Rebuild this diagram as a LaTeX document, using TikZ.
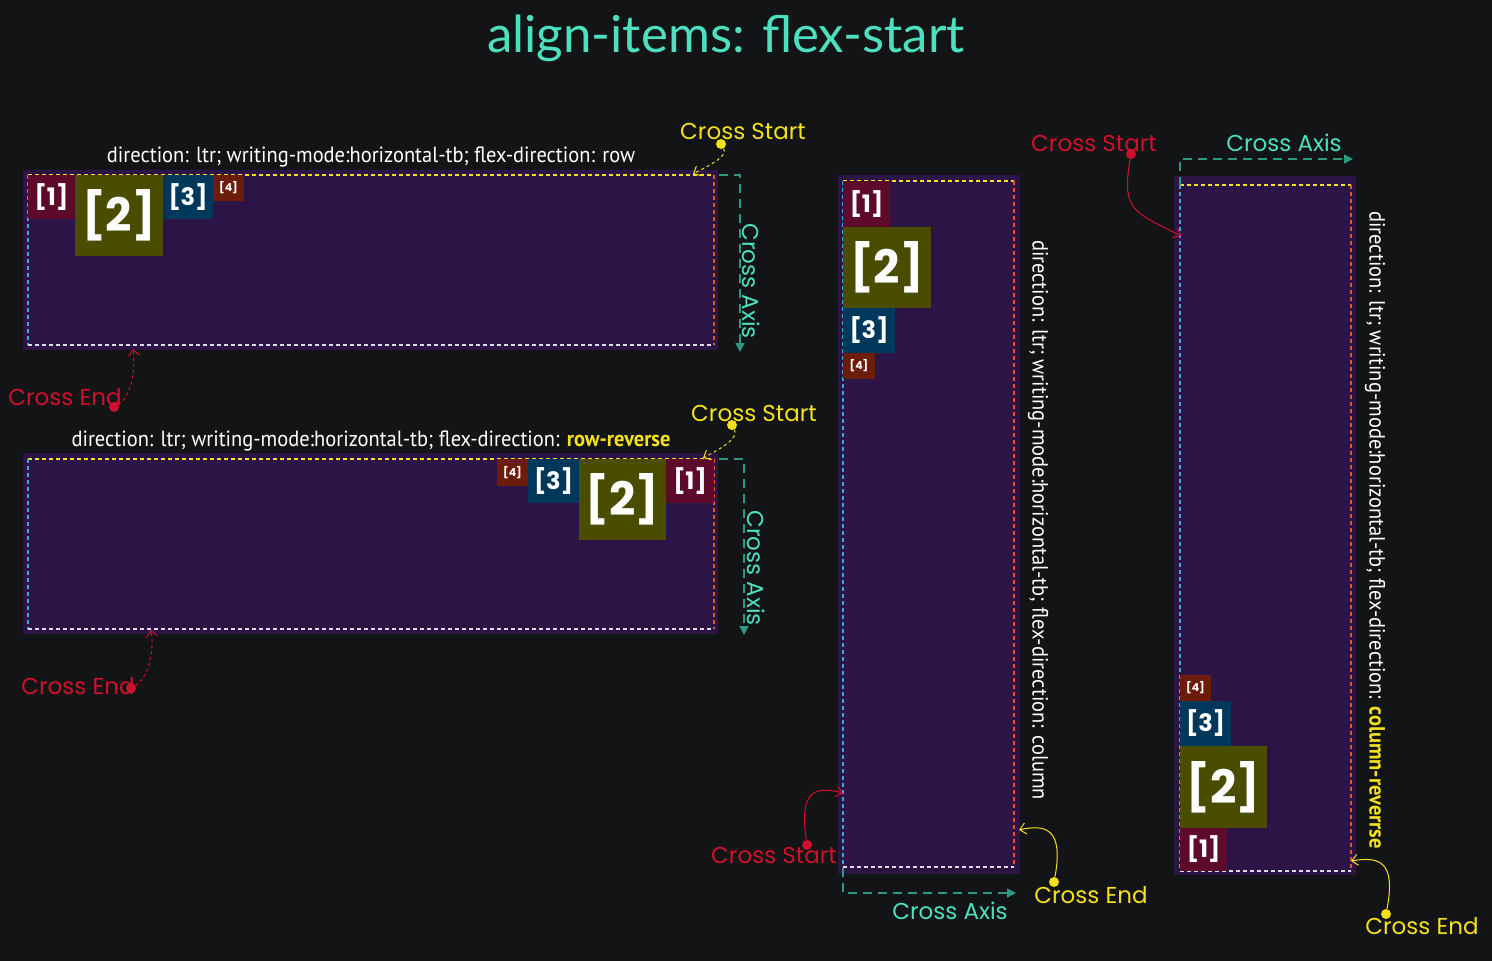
\documentclass[tikz,border=0pt]{standalone}
\usepackage{fontspec}
\usepackage{xcolor}
\usetikzlibrary{arrows.meta}
\setmainfont{Lato}
\newfontfamily\dirfont[FakeStretch=0.93]{PT Sans}
\newfontfamily\crossfont{Poppins}

\definecolor{bgc}{HTML}{131416}
\definecolor{boxc}{HTML}{2D1446}
\definecolor{onec}{HTML}{5E0A2B}
\definecolor{twoc}{HTML}{4A4D00}
\definecolor{threec}{HTML}{00385C}
\definecolor{fourc}{HTML}{6B1C0A}
\definecolor{tealc}{HTML}{4CE0BE}
\definecolor{axisc}{HTML}{2A9A80}
\definecolor{yelc}{HTML}{F5E11B}
\definecolor{redc}{HTML}{D0102C}
\definecolor{cyanc}{HTML}{3AA8D8}
\definecolor{orangec}{HTML}{E8512A}
\definecolor{rimw}{HTML}{DDDDE6}

\begin{document}
\begin{tikzpicture}[x=1pt, y=-1pt,
  flexbox/.style={fill=boxc, inner sep=0, outer sep=0, anchor=north west},
  inbox/.style={inner sep=0, outer sep=0, anchor=north west},
  item/.style={inner sep=0, outer sep=0, anchor=north west, text=white, font=\crossfont\bfseries\fontsize{24}{24}\selectfont},
  bigitem/.style={item, font=\crossfont\bfseries\fontsize{46}{46}\selectfont},
  tinyitem/.style={item, font=\crossfont\bfseries\fontsize{11}{11}\selectfont},
  rim/.style={line width=1.1pt, dash pattern=on 4pt off 3pt},
  dirlabel/.style={text=white, font=\dirfont\fontsize{22}{22}\selectfont},
  cross/.style={font=\crossfont\fontsize{23}{23}\selectfont},
  dotmark/.style={circle, fill, inner sep=0, minimum size=10pt},
  axisline/.style={axisc, line width=1.3pt, dash pattern=on 9pt off 6pt, -{Triangle[length=9pt, width=9pt]}},
  hint/.style={line width=1pt, -{Straight Barb[length=6pt, width=11pt]}}]

\fill[bgc] (0,0) rectangle (1492,961);
\useasboundingbox (0,0) rectangle (1492,961);

\node[text=tealc, font=\fontsize{51}{51}\selectfont] (title) at (726,38) {align-items: flex-start};

% flex-direction: row
\node[flexbox, minimum width=695, minimum height=180] (rowbox) at (23,170) {};
\node[inbox, minimum width=686, minimum height=170] (rowin) at (28,175) {};
\draw[rim, yelc] (rowin.north west) -- (rowin.north east);
\draw[rim, cyanc] (rowin.north west) -- (rowin.south west);
\draw[rim, orangec] (rowin.north east) -- (rowin.south east);
\draw[rim, rimw] (rowin.south west) -- (rowin.south east);
\node[item, fill=onec, minimum width=47, minimum height=44] (r1) at (rowin.north west) {[1]};
\node[bigitem, fill=twoc, minimum width=88, minimum height=81] (r2) at (r1.north east) {[2]};
\node[item, fill=threec, minimum width=50, minimum height=44] (r3) at (r2.north east) {[3]};
\node[tinyitem, fill=fourc, minimum width=31, minimum height=26] (r4) at (r3.north east) {[4]};
\node[dirlabel] (rowlbl) at (371,157) {direction: ltr; writing-mode:horizontal-tb; flex-direction: row};

\node[cross, text=yelc] (cs1) at (743,131) {Cross Start};
\node[dotmark, yelc] (cs1d) at (721,144) {};
\coordinate (cs1e) at (693,174);
\draw[hint, yelc, dashed] (cs1d) .. controls (728,156) and (712,164) .. (cs1e);

\coordinate (ax1s) at (719,175);
\coordinate (ax1e) at (740,352);
\draw[axisline] (ax1s) -| (ax1e);
\node[cross, text=tealc, rotate=-90] (ax1) at (751,281) {Cross Axis};

\node[cross, text=redc] (ce1) at (65,397) {Cross End};
\node[dotmark, redc] (ce1d) at (114,407) {};
\coordinate (ce1e) at (133,349);
\draw[hint, redc, dashed] (ce1d) .. controls (130,398) and (136,372) .. (ce1e);

% flex-direction: row-reverse
\node[flexbox, minimum width=695, minimum height=181] (revbox) at (23,453) {};
\node[inbox, minimum width=686, minimum height=170] (revin) at (28,459) {};
\draw[rim, yelc] (revin.north west) -- (revin.north east);
\draw[rim, cyanc] (revin.north west) -- (revin.south west);
\draw[rim, orangec] (revin.north east) -- (revin.south east);
\draw[rim, rimw] (revin.south west) -- (revin.south east);
\node[item, anchor=north east, fill=onec, minimum width=48, minimum height=44] (v1) at (revin.north east) {[1]};
\node[bigitem, anchor=north east, fill=twoc, minimum width=87, minimum height=81] (v2) at (v1.north west) {[2]};
\node[item, anchor=north east, fill=threec, minimum width=51, minimum height=44] (v3) at (v2.north west) {[3]};
\node[tinyitem, anchor=north east, fill=fourc, minimum width=31, minimum height=27] (v4) at (v3.north west) {[4]};
\node[dirlabel] (revlbl) at (371,441) {direction: ltr; writing-mode:horizontal-tb; flex-direction: \textcolor{yelc}{\bfseries row-reverse}};

\node[cross, text=yelc] (cs2) at (754,413) {Cross Start};
\node[dotmark, yelc] (cs2d) at (732,425) {};
\coordinate (cs2e) at (703,458);
\draw[hint, yelc, dashed] (cs2d) .. controls (739,438) and (722,448) .. (cs2e);

\coordinate (ax2s) at (719,459);
\coordinate (ax2e) at (744,635);
\draw[axisline] (ax2s) -| (ax2e);
\node[cross, text=tealc, rotate=-90] (ax2) at (756,568) {Cross Axis};

\node[cross, text=redc] (ce2) at (78,686) {Cross End};
\node[dotmark, redc] (ce2d) at (131,688) {};
\coordinate (ce2e) at (151,630);
\draw[hint, redc, dashed] (ce2d) .. controls (146,680) and (155,655) .. (ce2e);

% flex-direction: column
\node[flexbox, minimum width=182, minimum height=699] (colbox) at (838,175) {};
\node[inbox, minimum width=171, minimum height=686] (colin) at (843,181) {};
\draw[rim, yelc] (colin.north west) -- (colin.north east);
\draw[rim, cyanc] (colin.north west) -- (colin.south west);
\draw[rim, orangec] (colin.north east) -- (colin.south east);
\draw[rim, rimw] (colin.south west) -- (colin.south east);
\node[item, fill=onec, minimum width=47, minimum height=46] (c1) at (colin.north west) {[1]};
\node[bigitem, fill=twoc, minimum width=88, minimum height=81] (c2) at (c1.south west) {[2]};
\node[item, fill=threec, minimum width=52, minimum height=45] (c3) at (c2.south west) {[3]};
\node[tinyitem, fill=fourc, minimum width=32, minimum height=26] (c4) at (c3.south west) {[4]};
\node[dirlabel, rotate=-90] (collbl) at (1038,520) {direction: ltr; writing-mode:horizontal-tb; flex-direction: column};

\node[cross, text=redc] (cs3) at (774,855) {Cross Start};
\node[dotmark, redc] (cs3d) at (807,845) {};
\coordinate (cs3e) at (843,793);
\draw[hint, redc] (cs3d) .. controls (799,790) and (815,786) .. (cs3e);

\node[cross, text=yelc] (ce3) at (1091,895) {Cross End};
\node[dotmark, yelc] (ce3d) at (1054,882) {};
\coordinate (ce3e) at (1019,830);
\draw[hint, yelc] (ce3d) .. controls (1064,828) and (1045,824) .. (ce3e);

\coordinate (ax3s) at (843,868);
\coordinate (ax3e) at (1016,893);
\draw[axisline] (ax3s) |- (ax3e);
\node[cross, text=tealc] (ax3) at (950,911) {Cross Axis};

% flex-direction: column-reverse
\node[flexbox, minimum width=182, minimum height=699] (crbox) at (1174,176) {};
\node[inbox, minimum width=171, minimum height=686] (crin) at (1180,185) {};
\draw[rim, yelc] (crin.north west) -- (crin.north east);
\draw[rim, cyanc] (crin.north west) -- (crin.south west);
\draw[rim, orangec] (crin.north east) -- (crin.south east);
\draw[rim, rimw] (crin.south west) -- (crin.south east);
\node[item, anchor=south west, fill=onec, minimum width=47, minimum height=43] (k1) at (crin.south west) {[1]};
\node[bigitem, anchor=south west, fill=twoc, minimum width=87, minimum height=82] (k2) at (k1.north west) {[2]};
\node[item, anchor=south west, fill=threec, minimum width=51, minimum height=45] (k3) at (k2.north west) {[3]};
\node[tinyitem, anchor=south west, fill=fourc, minimum width=31, minimum height=26] (k4) at (k3.north west) {[4]};
\node[dirlabel, rotate=-90] (crlbl) at (1375,530) {direction: ltr; writing-mode:horizontal-tb; flex-direction: \textcolor{yelc}{\bfseries column-reverrse}};

\node[cross, text=redc] (cs4) at (1094,143) {Cross Start};
\node[dotmark, redc] (cs4d) at (1131,154) {};
\coordinate (cs4e) at (1181,236);
\draw[hint, redc] (cs4d) .. controls (1121,212) and (1135,212) .. (cs4e);

\coordinate (ax4s) at (1180,186);
\coordinate (ax4e) at (1353,159);
\draw[axisline] (ax4s) |- (ax4e);
\node[cross, text=tealc] (ax4) at (1284,143) {Cross Axis};

\node[cross, text=yelc] (ce4) at (1422,926) {Cross End};
\node[dotmark, yelc] (ce4d) at (1386,914) {};
\coordinate (ce4e) at (1351,861);
\draw[hint, yelc] (ce4d) .. controls (1396,862) and (1380,856) .. (ce4e);

\end{tikzpicture}
\end{document}
